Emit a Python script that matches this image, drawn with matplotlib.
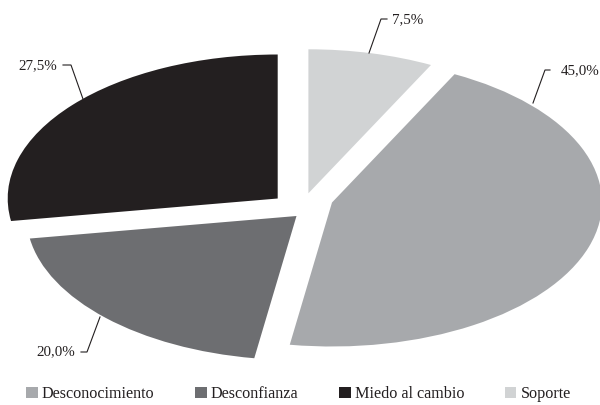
import matplotlib
matplotlib.use("Agg")
import matplotlib.pyplot as plt
from matplotlib.patches import Patch

# data
categories = ["Desconocimiento", "Desconfianza", "Miedo al cambio", "Soporte"]
values = [45.0, 20.0, 27.5, 7.5]
colors = ["#a7a9ac", "#6d6e71", "#231f20", "#d1d3d4"]

W, H = 600, 405
CX, CY = 302, 203   # pie centre, pixels from top-left
RX, RY = 270, 144   # squashed radii in pixels
# slice explosion in pixels (right, down); the original is a tilted 3D-ish pie
# so the pull-out is not purely radial
pull = [(30, -0.5), (-5.5, 13), (-24.3, -4.5), (6.4, -9.7)]
TXT = "#231f20"
FS = 10.8

plt.rcParams['font.family'] = ['Liberation Serif', 'DejaVu Serif']

fig = plt.figure(figsize=(W / 100, H / 100), dpi=100)
ax = fig.add_axes([0, 0, 1, 1])
wedges, _ = ax.pie(values, colors=colors, startangle=63,
                   counterclock=False, radius=1, wedgeprops=dict(linewidth=0))
for w, (dx, dy) in zip(wedges, pull):
    w.set_center((dx / RX, -dy / RY))
ax.set_aspect('auto')
ax.set_xlim(-CX / RX, (W - CX) / RX)
ax.set_ylim(-(H - CY) / RY, CY / RY)
ax.axis('off')


def px(x, y):
    # pixel position -> data coords of the pie axes
    return (x - CX) / RX, (CY - y) / RY


# leader lines: anchor on slice, elbow, tick end, text spot, alignment
leaders = [
    ((533, 103), (545, 70), (550, 70), (561, 71), 'left'),
    ((100, 317), (87, 352), (81, 352), (75, 352), 'right'),
    ((83, 99), (71, 65), (63, 65), (57, 66), 'right'),
    ((369, 53), (381, 19), (387, 19), (392, 20), 'left'),
]

for v, (a, b, c, t, ha) in zip(values, leaders):
    pts = [px(*a), px(*b), px(*c)]
    ax.plot([p[0] for p in pts], [p[1] for p in pts], color=TXT, lw=0.8,
            solid_joinstyle='miter')
    label = f"{v:.1f}%".replace('.', ',')
    ax.text(*px(*t), label, ha=ha, va='center', fontsize=FS, color=TXT)

handles = [Patch(facecolor=c, edgecolor='none') for c in colors]
fig.legend(handles, categories, loc='center',
           bbox_to_anchor=(298.5 / W, 1 - 394 / H), ncol=4, frameon=False,
           fontsize=11.6, handlelength=0.7, handleheight=0.7,
           handletextpad=0.25, columnspacing=2.55, labelcolor=TXT)

fig.savefig("out.png", dpi=100)
